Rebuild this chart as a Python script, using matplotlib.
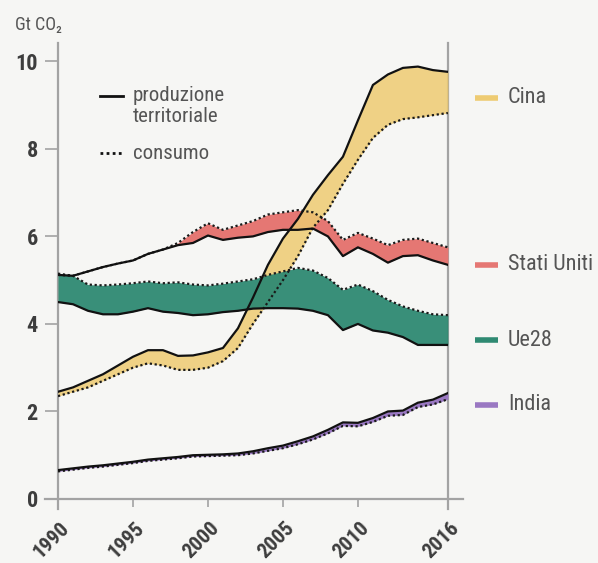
"""Emissioni di CO2: produzione territoriale vs consumo, 1990-2016."""

import matplotlib

matplotlib.use("Agg")
import matplotlib.pyplot as plt  # noqa: E402
import matplotlib.transforms as mtransforms  # noqa: E402

years = list(range(1990, 2017))

cina_produzione = [
    2.45, 2.55, 2.7, 2.85, 3.05, 3.25, 3.4, 3.4, 3.27, 3.28, 3.35, 3.45, 3.9,
    4.6, 5.35, 5.95, 6.4, 6.95, 7.4, 7.82, 8.65, 9.46, 9.7, 9.85, 9.88, 9.8, 9.76,
]
cina_consumo = [
    2.35, 2.45, 2.55, 2.7, 2.85, 3.0, 3.1, 3.05, 2.95, 2.95, 3.0, 3.15, 3.45,
    4.0, 4.5, 5.0, 5.55, 6.2, 6.6, 7.2, 7.75, 8.25, 8.55, 8.68, 8.72, 8.77, 8.82,
]
usa_produzione = [
    5.12, 5.1, 5.2, 5.3, 5.38, 5.45, 5.6, 5.7, 5.8, 5.85, 6.02, 5.92, 5.97,
    6.0, 6.1, 6.15, 6.15, 6.18, 6.0, 5.55, 5.75, 5.6, 5.4, 5.55, 5.57, 5.45, 5.35,
]
usa_consumo = [
    5.12, 5.1, 5.2, 5.3, 5.38, 5.45, 5.6, 5.7, 5.85, 6.1, 6.3, 6.15, 6.25,
    6.35, 6.5, 6.55, 6.6, 6.55, 6.35, 5.92, 6.08, 5.95, 5.8, 5.92, 5.95, 5.85, 5.75,
]
ue_produzione = [
    4.5, 4.45, 4.3, 4.22, 4.22, 4.28, 4.36, 4.28, 4.25, 4.2, 4.22, 4.27, 4.3,
    4.35, 4.36, 4.36, 4.35, 4.3, 4.2, 3.86, 4.0, 3.85, 3.8, 3.7, 3.52, 3.52, 3.52,
]
ue_consumo = [
    5.15, 5.1, 4.9, 4.88, 4.9, 4.93, 4.97, 4.93, 4.95, 4.9, 4.88, 4.92, 4.97,
    5.02, 5.12, 5.2, 5.28, 5.22, 5.05, 4.78, 4.9, 4.75, 4.55, 4.4, 4.3, 4.22, 4.2,
]
india_produzione = [
    0.66, 0.7, 0.74, 0.77, 0.81, 0.85, 0.9, 0.93, 0.96, 1.0, 1.01, 1.02, 1.04,
    1.09, 1.16, 1.22, 1.32, 1.43, 1.58, 1.75, 1.74, 1.85, 2.0, 2.02, 2.2, 2.27, 2.42,
]
india_consumo = [
    0.63, 0.67, 0.71, 0.74, 0.78, 0.82, 0.87, 0.9, 0.93, 0.97, 0.98, 0.99, 1.0,
    1.04, 1.1, 1.16, 1.25, 1.36, 1.5, 1.67, 1.66, 1.76, 1.9, 1.92, 2.1, 2.16, 2.28,
]

paesi = ["Cina", "Stati Uniti", "Ue28", "India"]
label_y = [9.17, 5.35, 3.63, 2.15]
colori = ["#eecb72", "#e57773", "#2f8a72", "#9a78c2"]

x_ticks = [1990, 1995, 2000, 2005, 2010, 2016]
y_ticks = [0, 2, 4, 6, 8, 10]

BG = "#f6f6f4"
AXIS_GRAY = "#a3a3a3"
TEXT_GRAY = "#555555"
FONT = ["Roboto Condensed", "Liberation Sans Narrow", "Roboto", "DejaVu Sans"]
DOTTED = (0, (1, 1.2))

plt.rcParams["font.family"] = FONT

fig = plt.figure(figsize=(5.98, 5.63), dpi=100, facecolor=BG)
ax = fig.add_axes([0.097, 0.1137, 0.652, 0.81])
ax.set_facecolor(BG)
ax.set_xlim(1990, 2016)
ax.set_ylim(0, 10.42)

series = [
    (usa_produzione, usa_consumo, colori[1], 1.0, 1),
    (cina_produzione, cina_consumo, colori[0], 0.85, 2),
    (ue_produzione, ue_consumo, colori[2], 0.95, 3),
    (india_produzione, india_consumo, colori[3], 1.0, 4),
]
for prod, cons, colore, alpha, z in series:
    ax.fill_between(years, prod, cons, color=colore, alpha=alpha, lw=0, zorder=z)
for prod, cons, colore, alpha, z in series:
    ax.plot(years, cons, color="#1a1a1a", lw=1.6, ls=DOTTED, zorder=6)
    ax.plot(years, prod, color="#111111", lw=1.6, zorder=7)

# spines drawn by hand so they run past the plot area like the original
for side in ax.spines.values():
    side.set_visible(False)
line_kw = dict(color=AXIS_GRAY, lw=1.6, transform=ax.transAxes, clip_on=False, zorder=0)
ax.plot([-0.033, 1.038], [0, 0], **line_kw)
ax.plot([0, 0], [-0.022, 1.0], **line_kw)
ax.plot([1, 1], [-0.022, 1.0], **line_kw)

ax.set_yticks(y_ticks)
ax.set_xticks(x_ticks)
ax.tick_params(axis="y", length=9.5, width=1.2, color=AXIS_GRAY, pad=5,
               labelsize=16, labelcolor="#3d3d3d")
ax.tick_params(axis="x", length=6, width=1.2, color=AXIS_GRAY, pad=8,
               labelsize=15, labelcolor="#3d3d3d")
for lab in ax.get_yticklabels() + ax.get_xticklabels():
    lab.set_fontweight("bold")
shift = mtransforms.ScaledTranslation(-7 / 100, 0, fig.dpi_scale_trans)
for lab in ax.get_xticklabels():
    lab.set_rotation(45)
    lab.set_ha("center")
    lab.set_transform(lab.get_transform() + shift)

fig.text(0.025, 0.956, "Gt CO₂", fontsize=13, color=TEXT_GRAY, va="center")

# legenda
ax.plot([0.108, 0.167], [0.884, 0.884], color="#111111", lw=2,
        transform=ax.transAxes, clip_on=False)
ax.plot([0.108, 0.167], [0.758, 0.758], color="#111111", lw=2, ls=DOTTED,
        transform=ax.transAxes, clip_on=False)
ax.text(0.192, 0.905, "produzione\nterritoriale", transform=ax.transAxes,
        fontsize=15, color=TEXT_GRAY, va="top", linespacing=1.1)
ax.text(0.192, 0.758, "consumo", transform=ax.transAxes,
        fontsize=15, color=TEXT_GRAY, va="center")

# etichette a destra
trans = mtransforms.blended_transform_factory(ax.transAxes, ax.transData)
for nome, y, colore in zip(paesi, label_y, colori):
    ax.plot([1.069, 1.128], [y, y], color=colore, lw=4, transform=trans,
            clip_on=False, solid_capstyle="butt")
    ax.text(1.154, y, nome, transform=trans, fontsize=16, color=TEXT_GRAY,
            va="center")

fig.savefig("out.png", dpi=100, facecolor=BG)
plt.close(fig)
